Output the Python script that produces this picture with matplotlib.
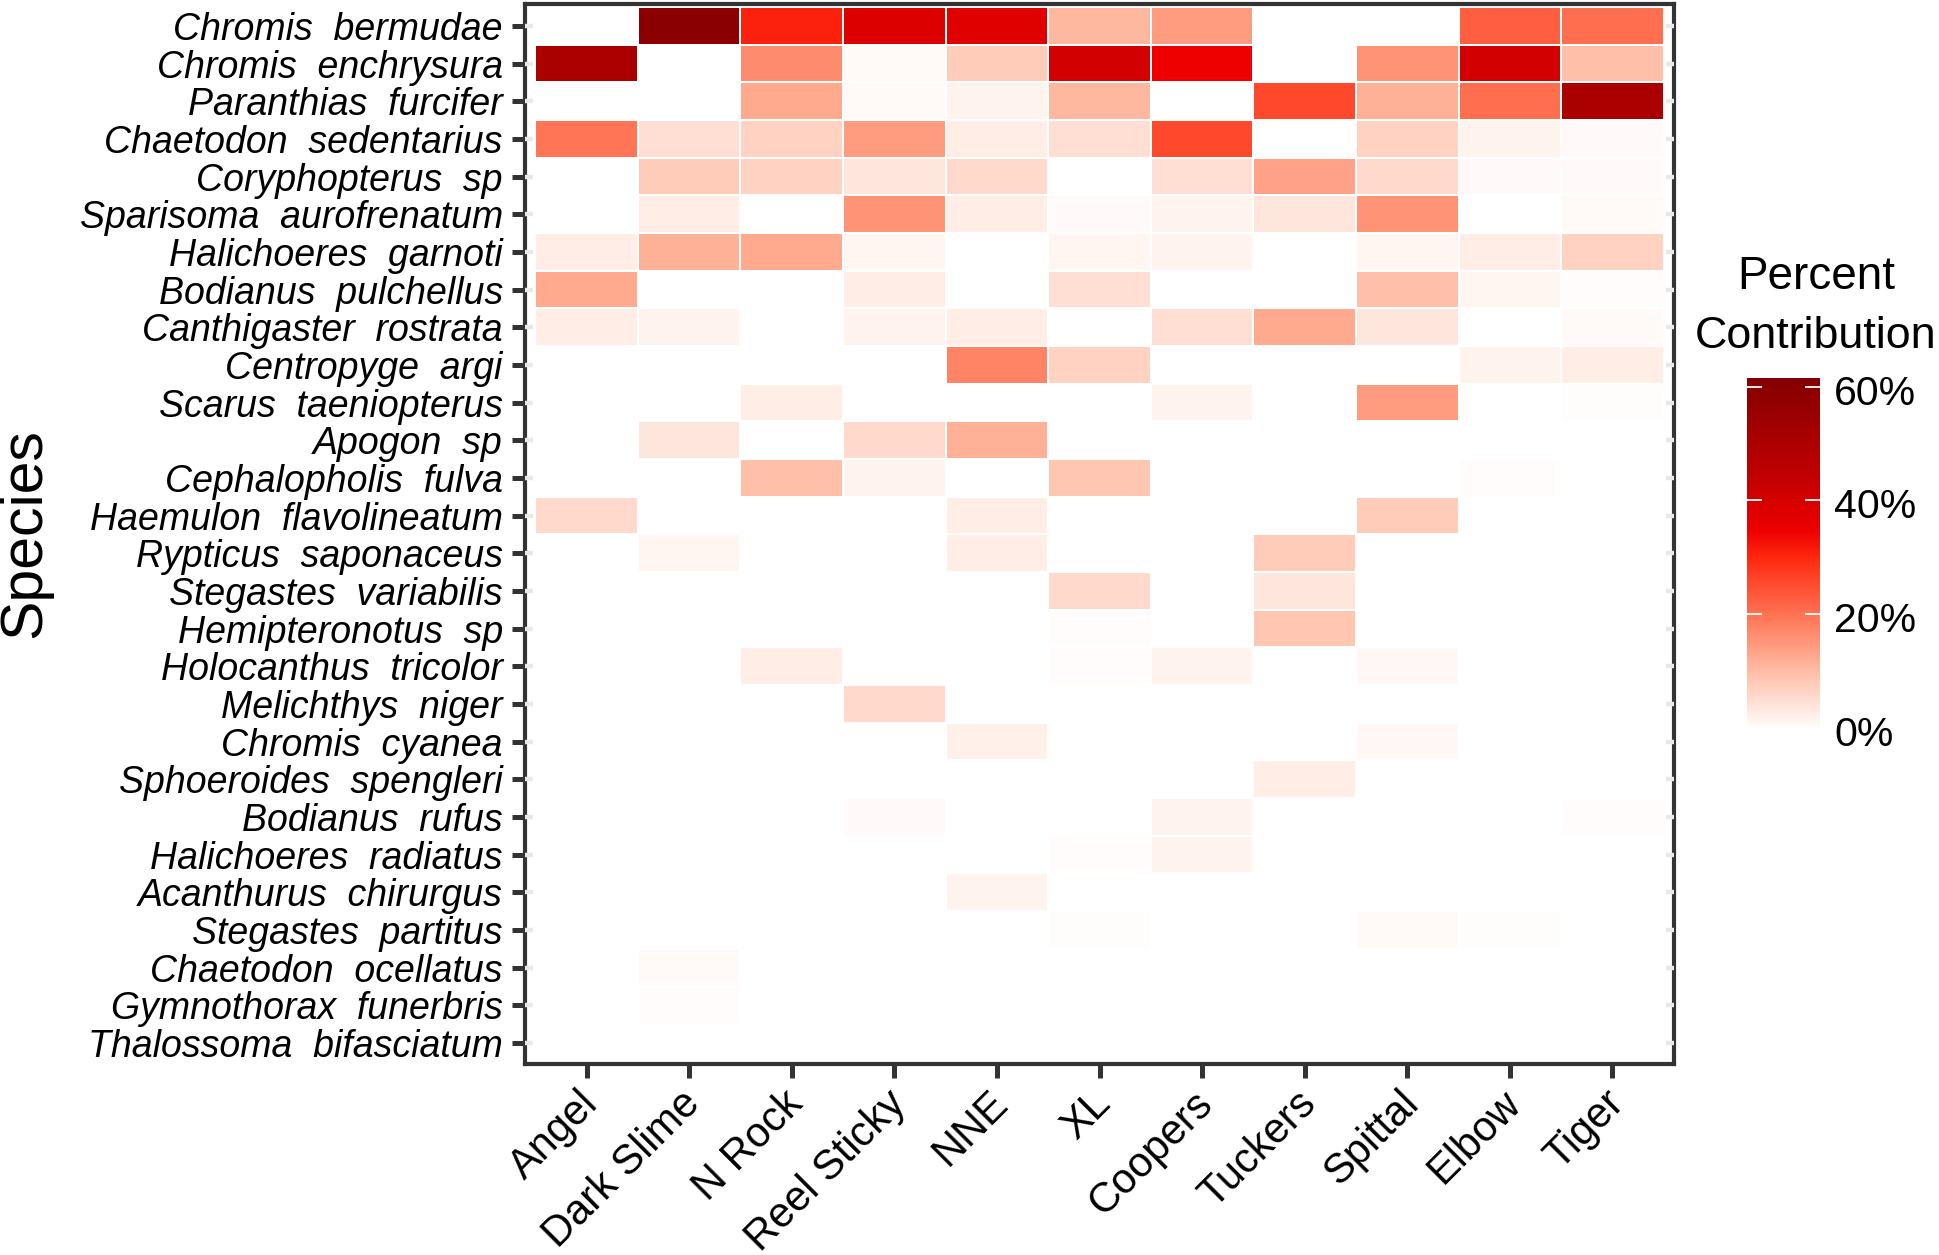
import numpy as np
import matplotlib
matplotlib.use("Agg")
import matplotlib.pyplot as plt
from matplotlib.colors import LinearSegmentedColormap
from matplotlib.transforms import ScaledTranslation

plt.rcParams['font.family'] = ['Liberation Sans', 'DejaVu Sans']

sites = ["Angel", "Dark Slime", "N Rock", "Reel Sticky", "NNE", "XL", "Coopers", "Tuckers", "Spittal", "Elbow", "Tiger"]
species = ["Chromis  bermudae", "Chromis  enchrysura", "Paranthias  furcifer", "Chaetodon  sedentarius",
           "Coryphopterus  sp", "Sparisoma  aurofrenatum", "Halichoeres  garnoti", "Bodianus  pulchellus",
           "Canthigaster  rostrata", "Centropyge  argi", "Scarus  taeniopterus", "Apogon  sp",
           "Cephalopholis  fulva", "Haemulon  flavolineatum", "Rypticus  saponaceus", "Stegastes  variabilis",
           "Hemipteronotus  sp", "Holocanthus  tricolor", "Melichthys  niger", "Chromis  cyanea",
           "Sphoeroides  spengleri", "Bodianus  rufus", "Halichoeres  radiatus", "Acanthurus  chirurgus",
           "Stegastes  partitus", "Chaetodon  ocellatus", "Gymnothorax  funerbris", "Thalossoma  bifasciatum"]
contribution = [
    [0, 60, 31, 39, 38, 11, 15, 0, 0, 23, 21],
    [51, 0, 17, 1, 8, 41, 35, 0, 16, 41, 10],
    [0, 0, 13, 1, 2, 11, 0, 26, 12, 21, 51],
    [20, 5, 7, 15, 3, 5, 26, 0, 7, 2, 0.8],
    [0, 8, 7, 4, 6, 0, 5, 14, 6, 0.8, 0.8],
    [0, 3, 0, 16, 3, 0.8, 2, 4, 16, 0, 1],
    [3, 12, 13, 1.5, 0, 1.5, 2, 0, 1.5, 3, 7],
    [13, 0, 0, 3, 0, 5, 0, 0, 10, 1.5, 0.5],
    [3, 2, 0, 2, 3, 0, 5, 13, 4, 0, 1],
    [0, 0, 0, 0, 18, 7, 0, 0, 0, 2, 3],
    [0, 0, 3, 0, 0, 0, 2, 0, 15, 0, 0.4],
    [0, 4, 0, 6, 12, 0, 0, 0, 0, 0, 0],
    [0, 0, 10, 2, 0, 9, 0, 0, 0, 0.5, 0],
    [6, 0, 0, 0, 3, 0, 0, 0, 8, 0, 0],
    [0, 1.5, 0, 0, 3, 0, 0, 8, 0, 0, 0],
    [0, 0, 0, 0, 0, 6, 0, 4, 0, 0, 0],
    [0, 0, 0, 0, 0, 0.5, 0, 9, 0, 0, 0],
    [0, 0, 3, 0, 0, 0.6, 2, 0, 1.2, 0, 0],
    [0, 0, 0, 6, 0, 0, 0, 0, 0, 0, 0],
    [0, 0, 0, 0, 2.5, 0, 0, 0, 1.2, 0, 0],
    [0, 0, 0, 0, 0, 0, 0, 3, 0, 0, 0],
    [0, 0, 0, 0.8, 0, 0, 2, 0, 0, 0, 0.6],
    [0, 0, 0, 0, 0, 0.6, 2, 0, 0, 0, 0],
    [0, 0, 0, 0, 2, 0, 0, 0, 0, 0, 0],
    [0, 0, 0, 0, 0, 0.4, 0, 0, 1, 0.4, 0],
    [0, 1, 0, 0, 0, 0, 0, 0, 0, 0, 0],
    [0, 0.5, 0, 0, 0, 0, 0, 0, 0, 0, 0],
    [0, 0, 0, 0, 0, 0, 0, 0, 0, 0, 0],
]
cbar_ticks = [0, 20, 40, 60]
vmax = 61.5
stops = [(0, "#FFFFFF"), (10, "#FFBFA8"), (20, "#FF7555"), (30, "#FF2A10"), (35, "#EE0000"),
         (45, "#C00000"), (61.5, "#850000")]

W, H = 1939, 1255
fig = plt.figure(figsize=(W / 100, H / 100), dpi=100, facecolor="white")
L, R, T, B = 525, 1674, 4, 1064
ax = fig.add_axes([L / W, 1 - B / H, (R - L) / W, (B - T) / H])


def shift(px_x, px_y):
    return ScaledTranslation(px_x / 100, px_y / 100, fig.dpi_scale_trans)


cmap = LinearSegmentedColormap.from_list("pc", [(v / vmax, c) for v, c in stops], N=512)
Z = np.array(contribution, dtype=float)
x_edges = np.arange(len(sites) + 1) - 0.5
y_edges = np.arange(len(species) + 1) - 0.5
mesh = ax.pcolormesh(x_edges, y_edges, Z, cmap=cmap, vmin=0, vmax=vmax, edgecolors="white", linewidth=1.3)
ax.set_xlim(-0.6, len(sites) - 0.4)
ax.set_ylim(len(species) - 0.44, -0.58)

dark = "#333333"
for s in ax.spines.values():
    s.set_linewidth(3.0)
    s.set_color(dark)
    s.set_zorder(5)
ax.set_xticks(range(len(sites)))
ax.set_xticklabels(sites, rotation=45, ha="right", va="top", rotation_mode="anchor", fontsize=30, color="black")
ax.set_yticks(range(len(species)))
ax.set_yticklabels(species, fontsize=27, style="italic", color="black")
ax.tick_params(axis="x", length=10, width=3.6, color=dark, pad=6)
ax.tick_params(axis="y", length=9.5, width=3.6, color=dark, pad=6.5)
for lab in ax.get_xticklabels():
    lab.set_transform(lab.get_transform() + shift(-9, 3))
ax.set_ylabel("Species", fontsize=42.5)
ax.yaxis.set_label_coords(52 / W, 1 - 533 / H, transform=fig.transFigure)

ax2 = ax.twinx()
ax2.set_ylim(ax.get_ylim())
ax2.set_yticks(range(len(species)))
ax2.tick_params(axis="y", left=True, right=True, labelleft=False, labelright=False,
                direction="in", length=6, width=3.2, color="#E9E9E9")
for s in ax2.spines.values():
    s.set_visible(False)

cax = fig.add_axes([1747 / W, 1 - 728.4 / H, 73 / W, 350.4 / H])
cb = fig.colorbar(mesh, cax=cax, ticks=cbar_ticks)
cb.outline.set_visible(False)
cb.solids.set_edgecolor("face")
cb.ax.set_yticklabels([f"{t}%" for t in cbar_ticks], fontsize=29.5, color="black")
cb.ax.tick_params(axis="y", direction="in", left=True, right=True, length=11, width=1.3, color="white", pad=10)
for lab in cb.ax.get_yticklabels():
    lab.set_verticalalignment("center_baseline")
    lab.set_transform(lab.get_transform() + shift(0, -3))

fig.text(1816 / W, 1 - 289 / H, "Percent", fontsize=33, ha="center", va="baseline")
fig.text(1816 / W, 1 - 348 / H, "Contribution", fontsize=32.3, ha="center", va="baseline")

fig.savefig("out.png", dpi=100)
